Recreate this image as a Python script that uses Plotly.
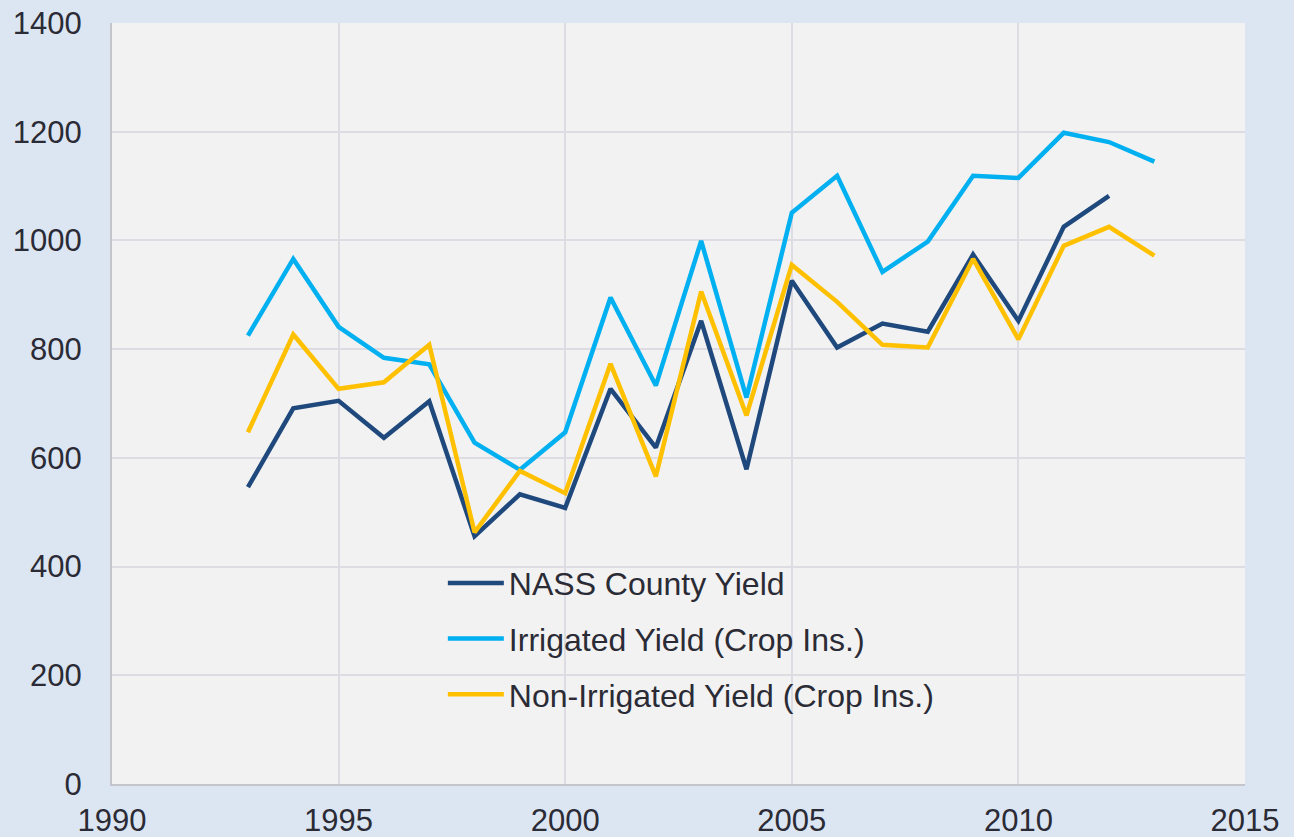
import plotly.graph_objects as go

years_nass = list(range(1993, 2013))
nass = [546, 691, 705, 637, 704, 456, 533, 508, 727, 619, 852, 579, 926, 803, 847, 832, 974, 852, 1025, 1082]

years_ins = list(range(1993, 2014))
irrigated = [825, 966, 841, 784, 772, 628, 578, 647, 895, 733, 999, 711, 1051, 1119, 942, 998, 1119, 1115, 1198, 1181, 1145]
non_irrigated = [647, 827, 727, 739, 808, 463, 576, 535, 773, 566, 906, 678, 955, 887, 808, 803, 966, 818, 990, 1025, 972]

x_ticks = [1990, 1995, 2000, 2005, 2010, 2015]
y_ticks = [0, 200, 400, 600, 800, 1000, 1200, 1400]

fig = go.Figure()
fig.add_trace(go.Scatter(x=years_nass, y=nass, mode="lines", name="NASS County Yield",
                         line=dict(color="#1f497d", width=4.5), legendgroup="a"))
fig.add_trace(go.Scatter(x=years_ins, y=irrigated, mode="lines", name="Irrigated Yield (Crop Ins.)",
                         line=dict(color="#00b0f0", width=4.5), legendgroup="b"))
fig.add_trace(go.Scatter(x=years_ins, y=non_irrigated, mode="lines", name="Non-Irrigated Yield (Crop Ins.)",
                         line=dict(color="#ffc000", width=4.5), legendgroup="c"))

fig.update_layout(
    width=1294, height=837,
    margin=dict(l=112, r=49, t=23, b=53, autoexpand=False),
    paper_bgcolor="#dce6f2",
    plot_bgcolor="#f2f2f2",
    font=dict(family="Liberation Sans, Arial, sans-serif", size=31, color="#2b2b36"),
    showlegend=True,
    legend=dict(x=0.292, y=0.30, xanchor="left", yanchor="top",
                bgcolor="rgba(0,0,0,0)", font=dict(size=32, color="#2b2b36"),
                tracegroupgap=11, itemwidth=56),
    xaxis=dict(range=[1990, 2015], tickvals=x_ticks, showgrid=True, gridcolor="#dcdce2", gridwidth=2,
               showline=True, linecolor="#c4c4cc", linewidth=2, zeroline=False, ticks="",
               tickfont=dict(size=31), automargin=False, ticklabelstandoff=8),
    yaxis=dict(range=[0, 1400], tickvals=y_ticks, showgrid=True, gridcolor="#dcdce2", gridwidth=2,
               showline=True, linecolor="#c4c4cc", linewidth=2, zeroline=False, ticks="",
               tickfont=dict(size=31), automargin=False, ticklabelstandoff=22),
)

fig.write_html("out.html", config={"displayModeBar": False},
               post_script="document.body.style.margin='0';")
